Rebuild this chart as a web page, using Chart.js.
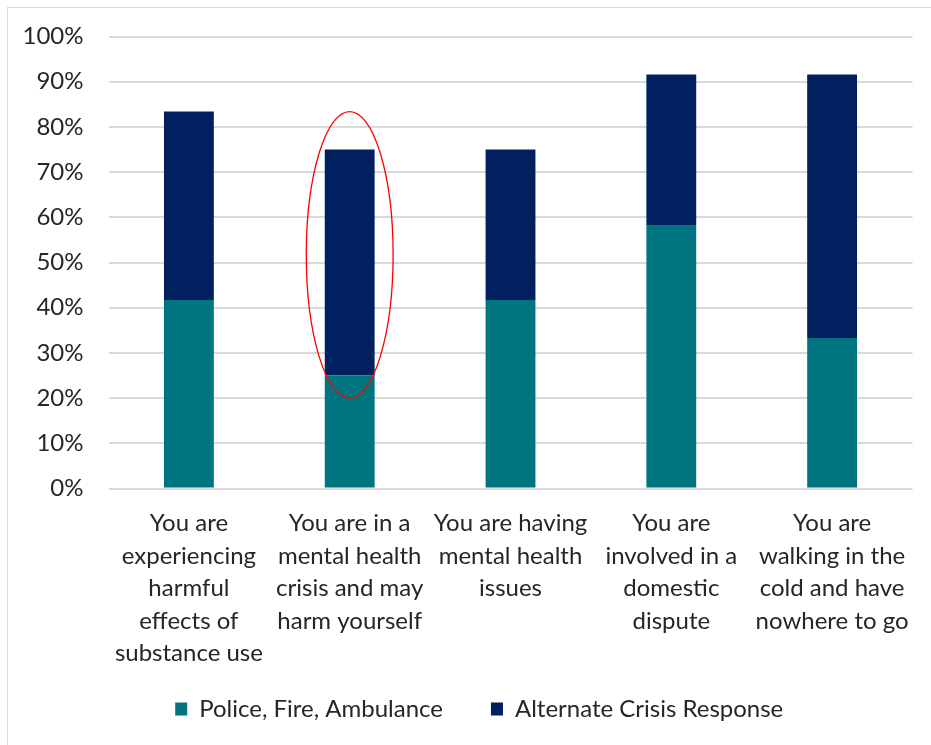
<!DOCTYPE html>
<html>
<head>
<meta charset="utf-8">
<script src="https://cdn.jsdelivr.net/npm/chart.js@4/dist/chart.umd.min.js"></script>
<style>
  body { margin: 0; background: #fff; }
  #frame { position: absolute; left: 7px; top: 7px; width: 960px; height: 780px; border: 1.5px solid #d9d9d9; }
  #chart { position: absolute; left: 0; top: 0; }
</style>
</head>
<body>
<div id="frame"></div>
<canvas id="chart" width="931" height="745"></canvas>
<script>
var categories = [
  ['You are', 'experiencing', 'harmful', 'effects of', 'substance use'],
  ['You are in a', 'mental health', 'crisis and may', 'harm yourself'],
  ['You are having', 'mental health', 'issues'],
  ['You are', 'involved in a', 'domestic', 'dispute'],
  ['You are', 'walking in the', 'cold and have', 'nowhere to go']
];
var emergencyValues = [41.7, 25, 41.7, 58.3, 33.3];
var alternateValues = [41.7, 50, 33.3, 33.3, 58.3];
var seriesNames = ['Police, Fire, Ambulance', 'Alternate Crisis Response'];

// circled bar: category index and the range it spans
var circled = { index: 1, from: 20, to: 83.4, halfWidth: 0.27 };

var textColor = '#262626';
var fontFamily = 'Lato, "Open Sans", sans-serif';

var ellipsePlugin = {
  id: 'ellipseMark',
  afterLayout: function(chart) {
    // let axis labels run outside their boxes without clipping
    chart.scales.x._computeLabelArea = function() { return undefined; };
    chart.scales.y._computeLabelArea = function() { return undefined; };
  },
  afterDatasetsDraw: function(chart) {
    var ctx = chart.ctx;
    var x = chart.scales.x;
    var y = chart.scales.y;
    var cx = x.getPixelForValue(circled.index);
    var step = x.getPixelForValue(1) - x.getPixelForValue(0);
    var top = y.getPixelForValue(circled.to);
    var bottom = y.getPixelForValue(circled.from);
    ctx.save();
    ctx.beginPath();
    ctx.ellipse(cx, (top + bottom) / 2, step * circled.halfWidth, (bottom - top) / 2, 0, 0, Math.PI * 2);
    ctx.strokeStyle = '#ff0000';
    ctx.lineWidth = 1.3;
    ctx.stroke();
    ctx.restore();
  }
};

function init() {
  var ctx = document.getElementById('chart');
  new Chart(ctx, {
    type: 'bar',
    data: {
      labels: categories,
      datasets: [{
        label: seriesNames[0],
        data: emergencyValues,
        backgroundColor: '#00757f'
      }, {
        label: seriesNames[1],
        data: alternateValues,
        backgroundColor: '#002060'
      }]
    },
    options: {
      responsive: false,
      animation: false,
      layout: { padding: { top: 36.5, right: 18.5, left: 46, bottom: 14 } },
      datasets: { bar: { barPercentage: 0.31, categoryPercentage: 1, borderWidth: 0 } },
      plugins: {
        tooltip: { enabled: false },
        legend: {
          position: 'bottom',
          labels: {
            color: textColor,
            font: { family: fontFamily, size: 24 },
            boxWidth: 12,
            boxHeight: 13,
            padding: 48
          }
        }
      },
      scales: {
        x: {
          stacked: true,
          grid: { display: false },
          border: { display: false },
          ticks: {
            color: textColor,
            font: { family: fontFamily, size: 24, lineHeight: 1.354 },
            maxRotation: 0,
            autoSkip: false,
            padding: 11
          },
          afterFit: function(scale) {
            scale.height = 160.5;
            scale.paddingLeft = 0;
            scale.paddingRight = 0;
          }
        },
        y: {
          stacked: true,
          min: 0,
          max: 100,
          grid: { color: '#d9d9d9', lineWidth: 2, drawTicks: false },
          border: { display: false },
          ticks: {
            stepSize: 10,
            color: textColor,
            font: { family: fontFamily, size: 24 },
            padding: 25,
            callback: function(v) { return v + '%'; }
          },
          afterFit: function(scale) {
            scale.width = 62.5;
            scale.paddingTop = 0;
            scale.paddingBottom = 0;
          }
        }
      }
    },
    plugins: [ellipsePlugin]
  });
}

init();
</script>
</body>
</html>
